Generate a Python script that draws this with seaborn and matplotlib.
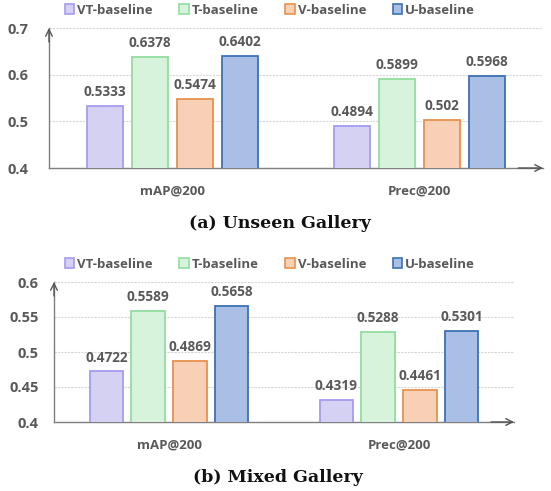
import matplotlib
matplotlib.use("Agg")
import matplotlib.pyplot as plt
import seaborn as sns
import pandas as pd
from matplotlib.patches import Patch

metrics = ["mAP@200", "Prec@200"]
methods = ["VT-baseline", "T-baseline", "V-baseline", "U-baseline"]
unseen_vt = [0.5333, 0.4894]
unseen_t = [0.6378, 0.5899]
unseen_v = [0.5474, 0.502]
unseen_u = [0.6402, 0.5968]
mixed_vt = [0.4722, 0.4319]
mixed_t = [0.5589, 0.5288]
mixed_v = [0.4869, 0.4461]
mixed_u = [0.5658, 0.5301]
unseen_labels = [["0.5333", "0.4894"], ["0.6378", "0.5899"], ["0.5474", "0.502"], ["0.6402", "0.5968"]]
mixed_labels = [["0.4722", "0.4319"], ["0.5589", "0.5288"], ["0.4869", "0.4461"], ["0.5658", "0.5301"]]

fills = ["#d4d1f3", "#d8f3dc", "#f8d0b5", "#a9bfe6"]
edges = ["#a49cf0", "#92dca0", "#e8914f", "#3c72b4"]
TXT = "#595959"

sns.set_theme(style="white")
plt.rcParams['font.family'] = ['Open Sans', 'DejaVu Sans']

W, H = 551, 491
fig = plt.figure(figsize=(W / 100, H / 100), dpi=100)


def make_df(vt, t, v, u):
    rows = []
    for m, vals in zip(methods, [vt, t, v, u]):
        for metric, val in zip(metrics, vals):
            rows.append({"metric": metric, "method": m, "value": val})
    return pd.DataFrame(rows)


def draw(rect, df, labels, ylim, yticks, yticklabels, ypad, legend_y, caption, caption_x, caption_y):
    l, t, r, b = rect
    ax = fig.add_axes([l / W, 1 - b / H, (r - l) / W, (b - t) / H])
    sns.barplot(data=df, x="metric", y="value", hue="method", order=metrics,
                hue_order=methods, palette=fills, width=0.727, gap=0.2,
                ax=ax, legend=False, linewidth=1.2, saturation=1)
    for i, cont in enumerate(ax.containers):
        for patch in cont:
            patch.set_edgecolor(edges[i])
            patch.set_linewidth(1.3)
            patch.set_zorder(3)
        ax.bar_label(cont, labels=labels[i], padding=5, color=TXT,
                     fontsize=9.8, fontweight="bold")
    ax.set_ylim(*ylim)
    ax.set_xlim(-0.5, 1.5)
    ax.set_yticks(yticks)
    ax.set_yticklabels(yticklabels)
    ax.set_xlabel("")
    ax.set_ylabel("")
    ax.tick_params(axis="y", length=0, pad=ypad, labelsize=10.5, labelcolor=TXT)
    ax.tick_params(axis="x", length=0, pad=12, labelsize=9.5, labelcolor=TXT)
    for lab in ax.get_xticklabels() + ax.get_yticklabels():
        lab.set_fontweight("bold")
    ax.set_xticks([0.5], minor=True)
    ax.tick_params(axis="x", which="minor", length=4, width=1, color="#7f7f7f", direction="out")
    ax.yaxis.grid(True, color="#d6d6d6", linewidth=0.8, linestyle=(0, (2, 1)))
    ax.set_axisbelow(True)
    for s in ["top", "right"]:
        ax.spines[s].set_visible(False)
    for s in ["left", "bottom"]:
        ax.spines[s].set_color("#7f7f7f")
        ax.spines[s].set_linewidth(1.0)
    ax.annotate("", xy=(0, 1.0), xytext=(0, 0.9), xycoords="axes fraction",
                arrowprops=dict(arrowstyle="->", color="#555555", lw=1.0, shrinkA=0, shrinkB=0))
    ax.annotate("", xy=(1.0, 0), xytext=(0.95, 0), xycoords="axes fraction",
                arrowprops=dict(arrowstyle="->", color="#555555", lw=1.0, shrinkA=0, shrinkB=0))
    handles = [Patch(facecolor=f, edgecolor=e, linewidth=1.2) for f, e in zip(fills, edges)]
    leg = fig.legend(handles, methods, loc="center", ncol=4, frameon=False,
                     bbox_to_anchor=(270 / W, 1 - legend_y / H),
                     handlelength=0.7, handleheight=0.7, handletextpad=0.25,
                     columnspacing=2.0, fontsize=9.5)
    for txt in leg.get_texts():
        txt.set_color(TXT)
        txt.set_fontweight("bold")
    fig.text(caption_x / W, 1 - caption_y / H, caption, ha="center", va="center",
             fontsize=12.5, fontweight="bold", family=["DejaVu Serif"], color="#111111")
    return ax


draw((49, 28, 543, 168), make_df(unseen_vt, unseen_t, unseen_v, unseen_u), unseen_labels,
     (0.4, 0.7), [0.4, 0.5, 0.6, 0.7], ["0.4", "0.5", "0.6", "0.7"], 15, 10,
     "(a) Unseen Gallery", 280, 223)
draw((54, 282, 514, 422), make_df(mixed_vt, mixed_t, mixed_v, mixed_u), mixed_labels,
     (0.4, 0.6), [0.4, 0.45, 0.5, 0.55, 0.6], ["0.4", "0.45", "0.5", "0.55", "0.6"], 11, 264,
     "(b) Mixed Gallery", 278, 478)

fig.savefig("out.png", dpi=100)
